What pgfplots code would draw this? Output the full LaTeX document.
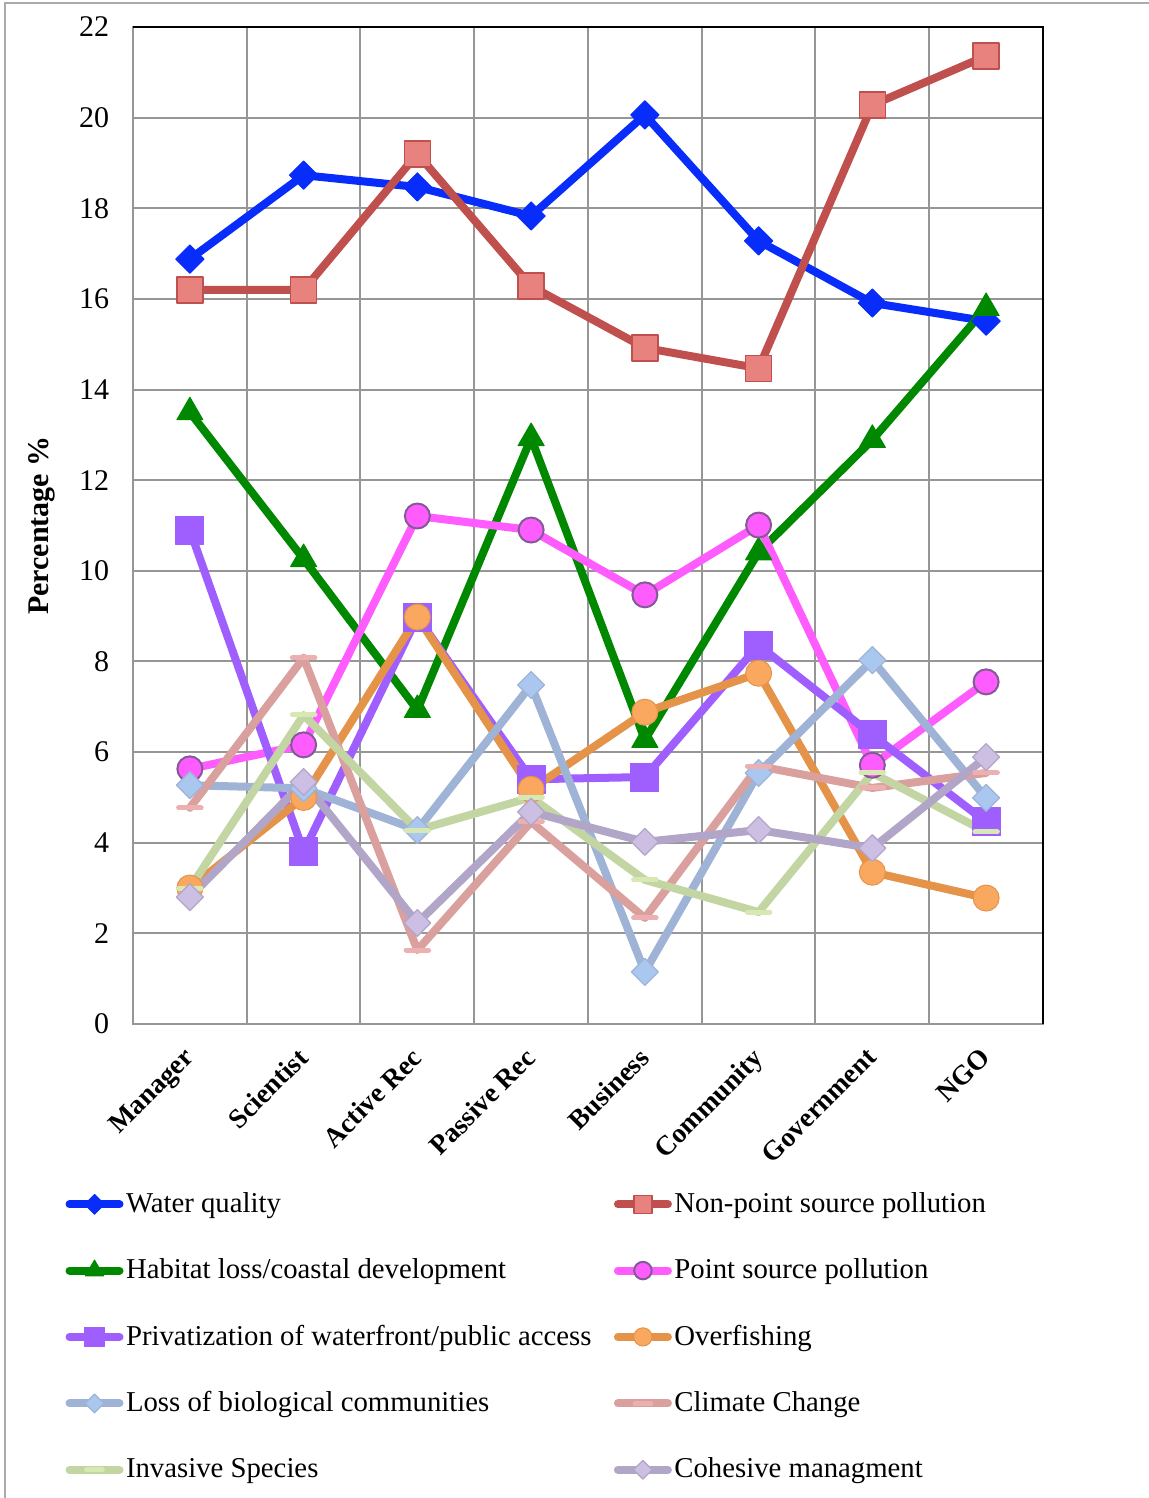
\documentclass[border=0pt]{standalone}
\usepackage{fontspec}
\setmainfont{Liberation Serif}
\usepackage{pgfplots}
\pgfplotsset{compat=1.18}
\definecolor{frameGray}{RGB}{170,170,170}
\definecolor{gridGray}{RGB}{150,150,150}
\definecolor{cWater}{RGB}{8,44,250}
\definecolor{cNP}{RGB}{192,80,77}
\definecolor{cNPm}{RGB}{232,130,126}
\definecolor{cHab}{RGB}{0,136,0}
\definecolor{cPS}{RGB}{255,92,255}
\definecolor{cPSd}{RGB}{130,90,150}
\definecolor{cPriv}{RGB}{159,95,255}
\definecolor{cOver}{RGB}{228,147,72}
\definecolor{cOverm}{RGB}{250,168,95}
\definecolor{cLoss}{RGB}{158,179,213}
\definecolor{cLossm}{RGB}{170,199,240}
\definecolor{cClim}{RGB}{218,160,158}
\definecolor{cClimm}{RGB}{236,176,176}
\definecolor{cInv}{RGB}{195,213,163}
\definecolor{cInvm}{RGB}{215,232,178}
\definecolor{cCoh}{RGB}{178,166,200}
\definecolor{cCohm}{RGB}{205,190,228}
\begin{document}
\begin{tikzpicture}
\path[use as bounding box] (0,0) rectangle (459.6pt,-599.2pt);
\draw[color=frameGray, line width=0.8pt] (2pt,-599.2pt) -- (2pt,-1.2pt) -- (459.6pt,-1.2pt);
\begin{axis}[
  at={(53.2pt,-409.6pt)}, anchor=south west,
  scale only axis, width=364pt, height=398.8pt,
  xmin=-0.5, xmax=7.5, ymin=0, ymax=22,
  clip=false,
  xtick={0,1,2,3,4,5,6,7},
  xticklabels={Manager,Scientist,Active Rec,Passive Rec,Business,Community,Government,NGO},
  minor xtick={0.5,1.5,2.5,3.5,4.5,5.5,6.5},
  ytick={0,2,4,6,8,10,12,14,16,18,20,22},
  xminorgrids, ymajorgrids,
  major tick length=0pt, minor tick length=0pt,
  grid style={color=gridGray, line width=0.8pt},
  minor grid style={color=gridGray, line width=0.8pt},
  axis line style={color=gridGray, line width=0.8pt},
  /pgf/number format/assume math mode=true,
  yticklabel style={font=\fontsize{12}{14}\selectfont, xshift=-6pt},
  xticklabel style={font=\bfseries\fontsize{11}{13}\selectfont, xshift=-3pt, yshift=-4pt, rotate=45, anchor=north east},
  ylabel={Percentage \%},
  every axis y label/.style={at={(axis description cs:-0.100,0.5)}, rotate=90, anchor=center, font=\bfseries\fontsize{12}{14}\selectfont},
  legend columns=2,
  legend style={at={(axis description cs:-0.0747,-0.166)}, anchor=north west, draw=none, fill=none,
    font=\fontsize{11.5}{13}\selectfont, row sep=15pt, inner sep=0pt,
    nodes={inner sep=1pt},
    /tikz/every even column/.append style={column sep=8pt}},
  legend cell align=left,
  legend image code/.code={\draw[mark repeat=2,mark phase=2,every mark/.append style={scale=0.7}] plot coordinates {(1pt,0pt) (11pt,0pt) (21pt,0pt)};},
  every axis plot/.append style={line width=3.2pt, line join=round, line cap=round},
  after end axis/.code={\draw[black,line width=0.8pt] (rel axis cs:0,1) -- (rel axis cs:1,1) -- (rel axis cs:1,0);},
]
\addplot[color=cWater, mark=square*, mark size=4pt, mark options={rotate=45, fill=cWater, draw=cWater, line width=0.4pt}]
  coordinates {(0,16.88) (1,18.73) (2,18.47) (3,17.83) (4,20.06) (5,17.28) (6,15.91) (7,15.51)};
\addlegendentry{Water quality}
\addplot[color=cNP, mark=square*, mark size=5.2pt, mark options={fill=cNPm, draw=cNP, line width=0.6pt}]
  coordinates {(0,16.20) (1,16.20) (2,19.20) (3,16.28) (4,14.92) (5,14.47) (6,20.28) (7,21.36)};
\addlegendentry{Non-point source pollution}
\addplot[color=cHab, mark=triangle*, mark size=6pt, mark options={fill=cHab, draw=cHab, line width=0.4pt}]
  coordinates {(0,13.50) (1,10.26) (2,6.93) (3,12.93) (4,6.27) (5,10.41) (6,12.89) (7,15.80)};
\addlegendentry{Habitat loss/coastal development}
\addplot[color=cPS, mark=*, mark size=5pt, mark options={fill=cPS, draw=cPSd, line width=0.8pt}]
  coordinates {(0,5.63) (1,6.16) (2,11.21) (3,10.90) (4,9.47) (5,11.01) (6,5.71) (7,7.55)};
\addlegendentry{Point source pollution}
\addplot[color=cPriv, mark=square*, mark size=5.6pt, mark options={fill=cPriv, draw=cPriv, line width=0.4pt}]
  coordinates {(0,10.90) (1,3.80) (2,8.98) (3,5.40) (4,5.45) (5,8.36) (6,6.38) (7,4.46)};
\addlegendentry{Privatization of waterfront/public access}
\addplot[color=cOver, mark=*, mark size=5.2pt, mark options={fill=cOverm, draw=cOver, line width=0.4pt}]
  coordinates {(0,3.00) (1,5.00) (2,8.98) (3,5.18) (4,6.88) (5,7.74) (6,3.35) (7,2.78)};
\addlegendentry{Overfishing}
\addplot[color=cLoss, mark=square*, mark size=3.8pt, mark options={rotate=45, fill=cLossm, draw=cLoss, line width=0.5pt}]
  coordinates {(0,5.27) (1,5.20) (2,4.28) (3,7.48) (4,1.15) (5,5.54) (6,8.03) (7,4.99)};
\addlegendentry{Loss of biological communities}
\addplot[color=cClim, mark=-, mark size=4.5pt, mark options={draw=cClimm, line width=2pt}]
  coordinates {(0,4.77) (1,8.08) (2,1.63) (3,4.46) (4,2.34) (5,5.69) (6,5.21) (7,5.54)};
\addlegendentry{Climate Change}
\addplot[color=cInv, mark=-, mark size=4.5pt, mark options={draw=cInvm, line width=2pt}]
  coordinates {(0,3.00) (1,6.82) (2,4.28) (3,5.00) (4,3.18) (5,2.47) (6,5.54) (7,4.24)};
\addlegendentry{Invasive Species}
\addplot[color=cCoh, mark=square*, mark size=3.8pt, mark options={rotate=45, fill=cCohm, draw=cCoh, line width=0.5pt}]
  coordinates {(0,2.80) (1,5.34) (2,2.23) (3,4.68) (4,4.02) (5,4.28) (6,3.88) (7,5.89)};
\addlegendentry{Cohesive managment}
\end{axis}
\end{tikzpicture}
\end{document}
